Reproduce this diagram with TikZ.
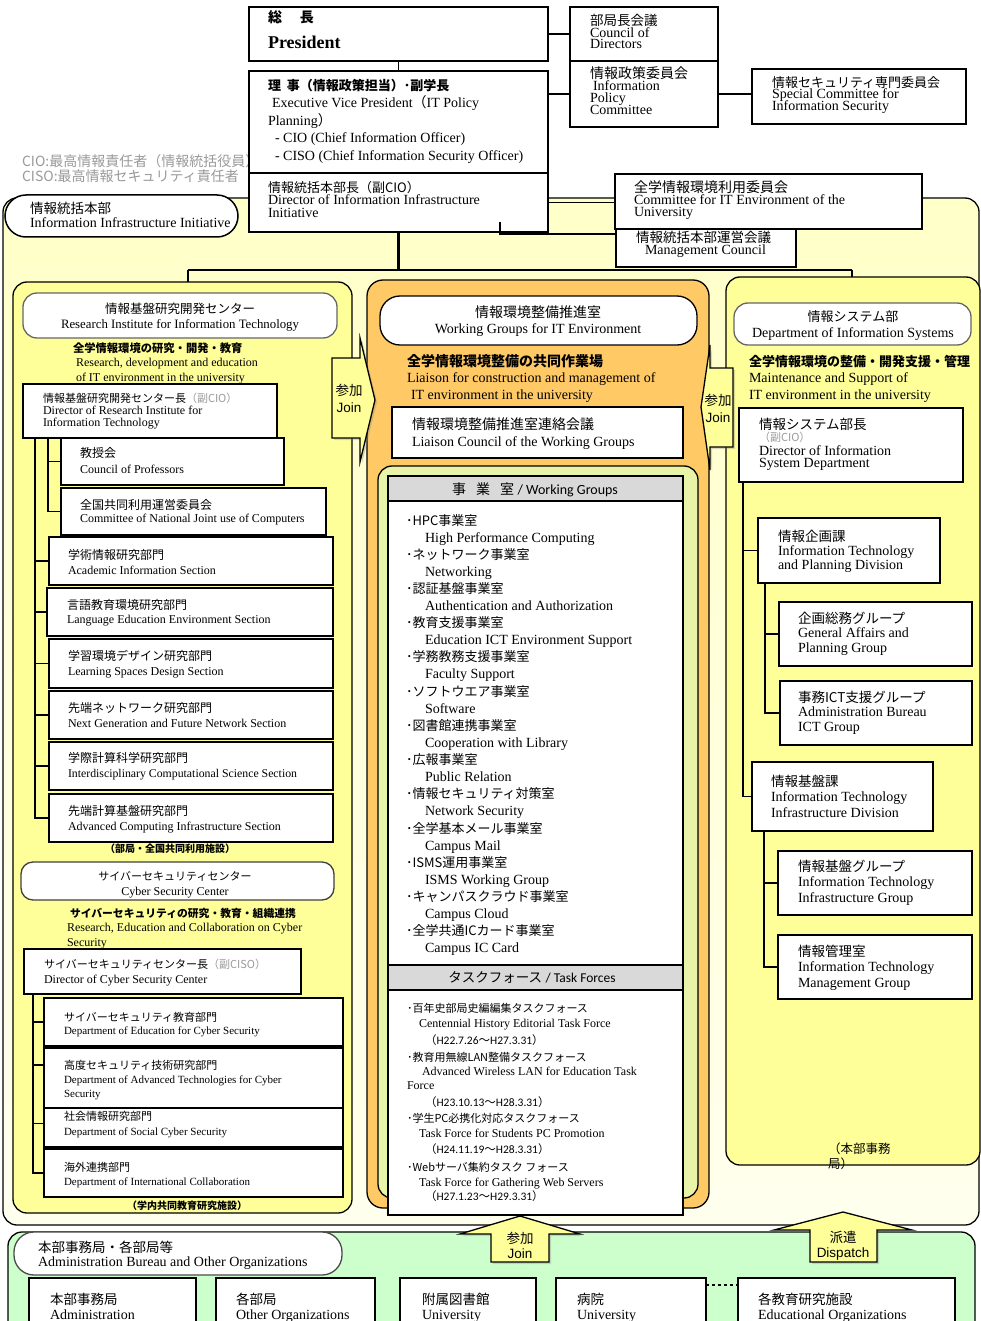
\documentclass[tikz,border=0pt]{standalone}
\usepackage{fontspec}
\setmainfont{Liberation Serif}
\newfontfamily\jp{Noto Sans CJK JP}
\newfontfamily\arl{Liberation Sans}
\newfontfamily\cbr{Carlito}
\usetikzlibrary{shadows}
\definecolor{outerY}{HTML}{FFFFC8}
\definecolor{outerYb}{HTML}{FFFFEE}
\definecolor{panelY}{HTML}{FFFF99}
\definecolor{orangeP}{HTML}{FFC966}
\definecolor{greenP}{HTML}{E8F5A8}
\definecolor{botG}{HTML}{CCFFCC}
\definecolor{hdrG}{HTML}{D9D9D9}
\definecolor{grayT}{HTML}{9A9A9A}
\newcommand\FS[2]{\fontsize{#1}{#2}\selectfont\lineskiplimit=-100pt\relax}
\newcommand\mkbox[6][]{\node[bx,#1,minimum width={(#5-#3)*1pt},minimum height={(#6-#4)*1pt}] (#2) at (#3,#4) {};}
\newcommand\mt[5][]{\node[tx,#1] (#2) at (#3,#4) {#5};}
\tikzset{
  bx/.style={draw=black, line width=1.8pt, fill=white, anchor=north west, inner sep=0pt, outer sep=0pt},
  tx/.style={anchor=base west, inner sep=0pt, outer sep=0pt, align=left},
  conn/.style={draw=black, line width=1.8pt},
  pnl/.style={line width=1.3pt, rounded corners=14pt},
  pill/.style={line width=1.3pt, rounded corners=#1},
  pill/.default=14pt,
  arrowsh/.style={draw=black, line width=1.3pt, fill=panelY, drop shadow={shadow xshift=2pt, shadow yshift=-2pt, opacity=0.3}},
}
% NOTE: for multi-line text nodes the y given is the baseline of the LAST line
\begin{document}
\begin{tikzpicture}[x=1pt,y=-1pt]
\useasboundingbox (0,0) rectangle (981,1321);
\fill[white] (0,0) rectangle (981,1321);

% outer region
\mkbox[pnl, top color=outerY, bottom color=outerYb]{outer}{3}{198}{979}{1225}

% note
\mt[font=\jp\FS{14}{15}, text=grayT]{note}{22}{182}{CIO:最高情報責任者（情報統括役員）\\CISO:最高情報セキュリティ責任者}

% top boxes
\mkbox{pres}{249}{7}{548}{61}
\mt[font=\jp\bfseries\FS{14}{14}]{presj}{268}{23}{総\hspace{18pt}長}
\mt[font=\bfseries\FS{18}{18}]{prese}{268}{49}{President}
\mkbox{evp}{249}{71}{548}{173}
\mt[font=\jp\bfseries\FS{13}{13}]{evpj}{268}{91}{理\hspace{6pt}事（情報政策担当）･副学長}
\mt[font=\FS{14}{14}]{evpe1}{272}{108}{Executive Vice President{\jp （}IT Policy}
\mt[font=\FS{14}{14}]{evpe2}{268}{126}{Planning{\jp ）}}
\mt[font=\FS{14}{17.6}]{evpe3}{275}{160.6}{- CIO (Chief Information Officer)\\- CISO (Chief Information Security Officer)}
\mkbox{hq}{249}{173}{548}{232}
\mt[font=\jp\FS{13}{13}]{hqj}{268}{193}{情報統括本部長（副CIO）}
\mt[font=\FS{14}{13}]{hqe}{268}{218}{Director of Information Infrastructure\\Initiative}

\mkbox{council}{570}{7}{718}{61}
\mt[font=\jp\FS{13.5}{13}]{councilj}{590}{25.5}{部局長会議}
\mt[font=\FS{14}{11.5}]{councile}{590}{49}{Council of\\Directors}
\mkbox{policy}{570}{61}{718}{127}
\mt[font=\jp\FS{14}{13}]{policyj}{590}{79}{情報政策委員会}
\mt[font=\FS{14}{11.7}]{policye}{590}{114.4}{\hspace*{3pt}Information\\Policy\\Committee}
\mkbox{seccom}{752}{69}{966}{124}
\mt[font=\jp\FS{13}{13}]{seccomj}{772}{88}{情報セキュリティ専門委員会}
\mt[font=\FS{14}{12}]{seccome}{772}{111}{Special Committee for\\Information Security}
\mkbox{mgmt}{616}{229}{796}{267}
\mt[font=\jp\FS{13.5}{13}]{mgmtj}{636}{242.5}{情報統括本部運営会議}
\mt[font=\FS{14}{13}]{mgmte}{645}{255}{Management Council}
\mkbox{itcom}{615}{174}{922}{229}
\mt[font=\jp\FS{14}{13}]{itcomj}{634}{193}{全学情報環境利用委員会}
\mt[font=\FS{14}{11.5}]{itcome}{634}{216.5}{Committee for IT Environment of the\\University}

\mkbox[pill=21pt, line width=1.5pt]{iiiP}{5}{195}{238}{237}
\mt[font=\jp\FS{13.5}{13}]{iiij}{30}{214}{情報統括本部}
\mt[font=\FS{14}{13}]{iiie}{30}{228}{Information Infrastructure Initiative}

% top connectors
\draw[conn] (pres.south) -- (evp.north);
\draw[conn] (pres.east) -- (council.west);
\draw[conn] (policy.west -| evp.east) -- (policy.west);
\draw[conn] (policy.east) -- (policy.east -| seccom.west);
\draw[conn] (hq.east) -- (hq.east -| itcom.west);
\coordinate (hqm) at (500,222);
\draw[conn] (hqm) |- ([yshift=-5pt]mgmt.north west);
\coordinate (busL) at (188,270);
\coordinate (busR) at (852,270);
\draw[conn, line width=2.4pt] (hq.south) -- (hq.south |- busL);
\draw[conn, line width=2.4pt] (busL) -- (busR);

% panels
\mkbox[pnl, fill=panelY]{leftP}{13}{282}{352}{1213}
\mkbox[pnl, fill=orangeP, rounded corners=16pt]{orgP}{367}{280}{709}{1208}
\mkbox[pnl, fill=panelY]{rightP}{726}{277}{980}{1165}
\draw[conn] (busL) -- (busL |- leftP.north);
\draw[conn] (busR) -- (busR |- rightP.north);

% ---------- left panel ----------
\mkbox[pill=14pt, draw=black!60]{ritP}{23}{293}{337}{338}
\mt[anchor=base, font=\jp\FS{12.5}{13}]{ritj}{180}{313}{情報基盤研究開発センター}
\mt[anchor=base, font=\FS{12.8}{13}]{rite}{180}{328}{Research Institute for Information Technology}
\mt[font=\jp\bfseries\FS{11.3}{13}]{ritt}{73}{352}{全学情報環境の研究・開発・教育}
\mt[font=\FS{12}{15}]{ritd}{76}{381}{Research, development and education\\of IT environment in the university}
\mkbox{rdir}{23}{384}{277}{438}
\mt[font=\jp\FS{11}{12}]{rdirj}{43}{402}{情報基盤研究開発センター長{\color{grayT}（副CIO）}}
\mt[font=\FS{12}{12}]{rdire}{43}{426}{Director of Research Institute for\\Information Technology}
\mkbox{prof}{61}{438}{284}{485}
\mt[font=\jp\FS{12}{13}]{profj}{80}{457.5}{教授会}
\mt[font=\FS{12}{13}]{profe}{80}{473}{Council of Professors}
\mkbox{natl}{61}{488}{326}{535}
\mt[font=\jp\FS{12}{13}]{natlj}{80}{509.5}{全国共同利用運営委員会}
\mt[font=\FS{12}{13}]{natle}{80}{522}{Committee of National Joint use of Computers}
\mkbox{sec1}{49}{537}{333}{585}
\mt[font=\jp\FS{12}{13}]{sec1j}{68}{559.5}{学術情報研究部門}
\mt[font=\FS{12}{13}]{sec1e}{68}{574}{Academic Information Section}
\mkbox{sec2}{47}{588}{333}{636}
\mt[font=\jp\FS{12}{13}]{sec2j}{67}{609.5}{言語教育環境研究部門}
\mt[font=\FS{12}{13}]{sec2e}{67}{623}{Language Education Environment Section}
\mkbox{sec3}{49}{639}{333}{688}
\mt[font=\jp\FS{12}{13}]{sec3j}{68}{660.5}{学習環境デザイン研究部門}
\mt[font=\FS{12}{13}]{sec3e}{68}{675}{Learning Spaces Design Section}
\mkbox{sec4}{49}{691}{333}{739}
\mt[font=\jp\FS{12}{13}]{sec4j}{68}{712.5}{先端ネットワーク研究部門}
\mt[font=\FS{12}{13}]{sec4e}{68}{727}{Next Generation and Future Network Section}
\mkbox{sec5}{49}{742}{333}{790}
\mt[font=\jp\FS{12}{13}]{sec5j}{68}{762.5}{学際計算科学研究部門}
\mt[font=\FS{11.8}{13}]{sec5e}{68}{777}{Interdisciplinary Computational Science Section}
\mkbox{sec6}{49}{794}{333}{842}
\mt[font=\jp\FS{12}{13}]{sec6j}{68}{815.5}{先端計算基盤研究部門}
\mt[font=\FS{12}{13}]{sec6e}{68}{830}{Advanced Computing Infrastructure Section}
\mt[anchor=base, font=\jp\bfseries\FS{10}{12}]{ritnote}{170}{852}{（部局・全国共同利用施設）}

\coordinate (lv) at (35,438);
\draw[conn] (lv) |- (sec6.west);
\foreach \s in {sec1,sec2,sec3,sec4,sec5} {\draw[conn] (lv |- \s.west) -- (\s.west);}
\coordinate (lv2) at (48,438);
\draw[conn] (lv2) |- (natl.west);
\draw[conn] (lv2 |- prof.west) -- (prof.west);

\mkbox[pill=12pt, draw=black!75]{cscP}{21}{862}{334}{900}
\mt[anchor=base, font=\jp\FS{11}{13}]{cscj}{175}{880}{サイバーセキュリティセンター}
\mt[anchor=base, font=\FS{12}{13}]{csce}{175}{895}{Cyber Security Center}
\mt[font=\jp\bfseries\FS{10.8}{13}]{csct}{70}{917}{サイバーセキュリティの研究・教育・組織連携}
\mt[font=\FS{12}{15}]{cscd}{67}{946}{Research, Education and Collaboration on Cyber\\Security}
\mkbox{cdir}{24}{949}{301}{994}
\mt[font=\jp\FS{11}{12}]{cdirj}{44}{968}{サイバーセキュリティセンター長{\color{grayT}（副CISO）}}
\mt[font=\FS{12}{12}]{cdire}{44}{983}{Director of Cyber Security Center}
\mkbox{d1}{44}{998}{343}{1046}
\mt[font=\jp\FS{11}{12}]{d1j}{64}{1021}{サイバーセキュリティ教育部門}
\mt[font=\FS{11}{12}]{d1e}{64}{1034}{Department of Education for Cyber Security}
\mkbox{d3}{44}{1100}{343}{1147}
\mkbox{d2}{44}{1048}{343}{1108}
\mt[font=\jp\FS{11}{12}]{d2j}{64}{1069.5}{高度セキュリティ技術研究部門}
\mt[font=\FS{11}{14}]{d2e}{64}{1097}{Department of Advanced Technologies for Cyber\\Security}
\mt[font=\jp\FS{11}{12}]{d3j}{64}{1120.5}{社会情報研究部門}
\mt[font=\FS{11}{12}]{d3e}{64}{1135}{Department of Social Cyber Security}
\mkbox{d4}{44}{1149}{343}{1197}
\mt[font=\jp\FS{11}{12}]{d4j}{64}{1171.5}{海外連携部門}
\mt[font=\FS{11}{12}]{d4e}{64}{1185}{Department of International Collaboration}
\mt[anchor=base, font=\jp\bfseries\FS{10}{12}]{cscnote}{187}{1209}{（学内共同教育研究施設）}

\coordinate (cv) at (33,994);
\draw[conn] (cv) |- (d4.west);
\draw[conn] (cv |- d1.west) -- (d1.west);
\coordinate (d2w) at ([yshift=13pt]d2.west);
\draw[conn] (cv |- d2w) -- (d2w);
\draw[conn] (cv |- d3.west) -- (d3.west);

% ---------- middle ----------
\mkbox[pill=20pt, line width=1.3pt]{wgP}{380}{296}{697}{345}
\mt[anchor=base, font=\jp\FS{14}{13}]{wgPj}{538}{317}{情報環境整備推進室}
\mt[anchor=base, font=\FS{14}{13}]{wgPe}{538}{333}{Working Groups for IT Environment}
\mt[font=\jp\bfseries\FS{14}{13}]{wgt}{407}{366}{全学情報環境整備の共同作業場}
\mt[font=\FS{14}{17}]{wgd}{407}{399}{Liaison for construction and management of\\\hspace*{4pt}IT environment in the university}
\mkbox{liai}{392}{407}{683}{458}
\mt[font=\jp\FS{14}{13}]{liaij}{412}{429}{情報環境整備推進室連絡会議}
\mt[font=\FS{14}{13}]{liaie}{412}{446}{Liaison Council of the Working Groups}
\mkbox[pnl, fill=greenP]{grnP}{378}{466}{698}{1198}
\mkbox{wlist}{388}{476}{683}{1215}
\mkbox[fill=hdrG]{hdr}{388}{476}{683}{501}
\mt[anchor=base, font=\FS{14}{14}]{hdrt}{535}{494}{{\jp 事\hspace{10pt}業\hspace{10pt}室} {\cbr / Working Groups}}
\mt[font=\jp\FS{13}{34.24}]{wgj}{406}{935.9}{･HPC事業室\\･ネットワーク事業室\\･認証基盤事業室\\･教育支援事業室\\･学務教務支援事業室\\･ソフトウエア事業室\\･図書館連携事業室\\･広報事業室\\･情報セキュリティ対策室\\･全学基本メール事業室\\･ISMS運用事業室\\･キャンパスクラウド事業室\\･全学共通ICカード事業室}
\mt[font=\FS{14}{34.24}]{wge}{425}{952.9}{High Performance Computing\\Networking\\Authentication and Authorization\\Education ICT Environment Support\\Faculty Support\\Software\\Cooperation with Library\\Public Relation\\Network Security\\Campus Mail\\ISMS Working Group\\Campus Cloud\\Campus IC Card}
\mkbox[fill=hdrG]{tband}{388}{965}{683}{990}
\mt[anchor=base, font=\FS{13.5}{14}]{tbandt}{532}{982.5}{{\jp タスクフォース} {\cbr / Task Forces}}
\mt[font=\jp\FS{11}{12}]{tf1j}{407}{1012}{･百年史部局史編編集タスクフォース}
\mt[font=\FS{12}{12}]{tf1e}{419}{1027.5}{Centennial History Editorial Task Force}
\mt[font=\cbr\FS{11.5}{12}]{tf1d}{425}{1044}{{\jp （}H22.7.26{\jp ～}H27.3.31{\jp ）}}
\mt[font=\jp\FS{11}{12}]{tf2j}{407}{1061}{･教育用無線LAN整備タスクフォース}
\mt[font=\FS{12}{12}]{tf2e}{422}{1075.5}{Advanced Wireless LAN for Education Task}
\mt[font=\FS{12}{12}]{tf2f}{407}{1089.5}{Force}
\mt[font=\cbr\FS{11.5}{12}]{tf2d}{425}{1106}{{\jp （}H23.10.13{\jp ～}H28.3.31{\jp ）}}
\mt[font=\jp\FS{11}{12}]{tf3j}{407}{1122}{･学生PC必携化対応タスクフォース}
\mt[font=\FS{12}{12}]{tf3e}{419}{1137.5}{Task Force for Students PC Promotion}
\mt[font=\cbr\FS{11.5}{12}]{tf3d}{425}{1153}{{\jp （}H24.11.19{\jp ～}H28.3.31{\jp ）}}
\mt[font=\jp\FS{11}{12}]{tf4j}{407}{1171}{･Webサーバ集約タスク フォース}
\mt[font=\FS{12}{12}]{tf4e}{419}{1186.5}{Task Force for Gathering Web Servers}
\mt[font=\cbr\FS{11.5}{12}]{tf4d}{425}{1200}{{\jp （}H27.1.23{\jp ～}H29.3.31{\jp ）}}

% ---------- right panel ----------
\mkbox[pill=14pt, draw=black!60]{disP}{734}{303}{971}{345}
\mt[anchor=base, font=\jp\FS{13}{13}]{disj}{853}{321}{情報システム部}
\mt[anchor=base, font=\FS{14}{13}]{dise}{853}{337}{Department of Information Systems}
\mt[font=\jp\bfseries\FS{13}{13}]{dist}{749}{366}{全学情報環境の整備・開発支援・管理}
\mt[font=\FS{14}{17.5}]{disd}{749}{399.5}{Maintenance and Support of\\IT environment in the university}
\mkbox{dir2}{739}{408}{963}{482}
\mt[font=\jp\FS{13.5}{13}]{dir2j}{759}{429}{情報システム部長}
\mt[font=\jp\FS{11}{13}, text=grayT]{dir2g}{759}{441.5}{（副CIO）}
\mt[font=\FS{14}{12.5}]{dir2e}{759}{467.5}{Director of Information\\System Department}
\mkbox{ipd}{758}{518}{940}{583}
\mt[font=\jp\FS{13.5}{13}]{ipdj}{778}{541}{情報企画課}
\mt[font=\FS{14}{14.5}]{ipde}{778}{569.5}{Information Technology\\and Planning Division}
\mkbox{gap}{779}{602}{972}{666}
\mt[font=\jp\FS{13.5}{13}]{gapj}{798}{623}{企画総務グループ}
\mt[font=\FS{14}{15.5}]{gape}{798}{652.5}{General Affairs and\\Planning Group}
\mkbox{aict}{780}{681}{972}{745}
\mt[font=\jp\FS{13.5}{13}]{aictj}{798}{702}{事務ICT支援グループ}
\mt[font=\FS{14}{15}]{aicte}{798}{731}{Administration Bureau\\ICT Group}
\mkbox{itid}{752}{762}{933}{831}
\mt[font=\jp\FS{13.5}{13}]{itidj}{771}{786}{情報基盤課}
\mt[font=\FS{14}{16}]{itide}{771}{817}{Information Technology\\Infrastructure Division}
\mkbox{itig}{778}{851}{972}{915}
\mt[font=\jp\FS{13.5}{13}]{itigj}{798}{871}{情報基盤グループ}
\mt[font=\FS{14}{16}]{itige}{798}{902}{Information Technology\\Infrastructure Group}
\mkbox{itmg}{778}{935}{972}{999}
\mt[font=\jp\FS{13.5}{13}]{itmgj}{798}{956}{情報管理室}
\mt[font=\FS{14}{16}]{itmge}{798}{987}{Information Technology\\Management Group}
\mt[font=\jp\FS{12.5}{15}]{hqoff}{828}{1168}{（本部事務\\局）}

\coordinate (rv) at (743,482);
\draw[conn] (rv) |- (itid.west);
\draw[conn] (rv |- ipd.west) -- (ipd.west);
\coordinate (rv2) at (765,583);
\draw[conn] (rv2) |- (aict.west);
\draw[conn] (rv2 |- gap.west) -- (gap.west);
\coordinate (rv3) at (764,831);
\draw[conn] (rv3) |- (itmg.west);
\draw[conn] (rv3 |- itig.west) -- (itig.west);

% ---------- side arrows ----------
\draw[arrowsh] (332,358) -- (360,358) -- (360,338) -- (375,400) -- (360,462) -- (360,438) -- (332,438) -- cycle;
\mt[anchor=base, align=center, font=\FS{13.5}{17}]{ljoin}{349}{412}{{\jp 参加}\\{\arl Join}}
\draw[arrowsh] (733,368) -- (710,368) -- (710,345) -- (701,407) -- (710,470) -- (710,447) -- (733,447) -- cycle;
\mt[anchor=base, align=center, font=\FS{13.5}{17}]{rjoin}{718}{422}{{\jp 参加}\\{\arl Join}}

% ---------- bottom ----------
\mkbox[pnl, fill=botG]{botP}{8}{1232}{975}{1352}
\mkbox[pill=20pt, draw=black!70]{bbP}{14}{1232}{342}{1275}
\mt[font=\jp\FS{13.5}{13}]{bbj}{38}{1252}{本部事務局・各部局等}
\mt[font=\FS{14}{13}]{bbe}{38}{1266}{Administration Bureau and Other Organizations}
\mkbox{b1}{29}{1278}{196}{1345}
\mt[font=\jp\FS{13.5}{13}]{b1j}{50}{1304}{本部事務局}
\mt[font=\FS{14}{13}]{b1e}{50}{1319}{Administration}
\mkbox{b2}{216}{1278}{375}{1345}
\mt[font=\jp\FS{13.5}{13}]{b2j}{236}{1304}{各部局}
\mt[font=\FS{14}{13}]{b2e}{236}{1319}{Other Organizations}
\mkbox{b3}{400}{1278}{536}{1345}
\mt[font=\jp\FS{13.5}{13}]{b3j}{422}{1304}{附属図書館}
\mt[font=\FS{14}{13}]{b3e}{422}{1319}{University}
\mkbox{b4}{556}{1278}{706}{1345}
\mt[font=\jp\FS{13.5}{13}]{b4j}{577}{1304}{病院}
\mt[font=\FS{14}{13}]{b4e}{577}{1319}{University}
\mkbox{b5}{738}{1278}{955}{1345}
\mt[font=\jp\FS{13.5}{13}]{b5j}{758}{1304}{各教育研究施設}
\mt[font=\FS{14}{13}]{b5e}{758}{1319}{Educational Organizations}
\draw[line width=1.8pt, dashed] ([yshift=-7pt]b4.north east) -- ([yshift=-7pt]b5.north west);

\draw[arrowsh] (520,1216) -- (580,1234) -- (549,1234) -- (549,1262) -- (491,1262) -- (491,1234) -- (460,1234) -- cycle;
\mt[anchor=base, align=center, font=\FS{13.5}{15}]{bjoin}{520}{1258}{{\jp 参加}\\{\arl Join}}
\draw[arrowsh] (843,1212) -- (912,1230) -- (877,1230) -- (877,1262) -- (810,1262) -- (810,1230) -- (774,1230) -- cycle;
\mt[anchor=base, align=center, font=\FS{13.5}{15}]{bdisp}{843}{1257}{{\jp 派遣}\\{\arl Dispatch}}
\end{tikzpicture}
\end{document}
